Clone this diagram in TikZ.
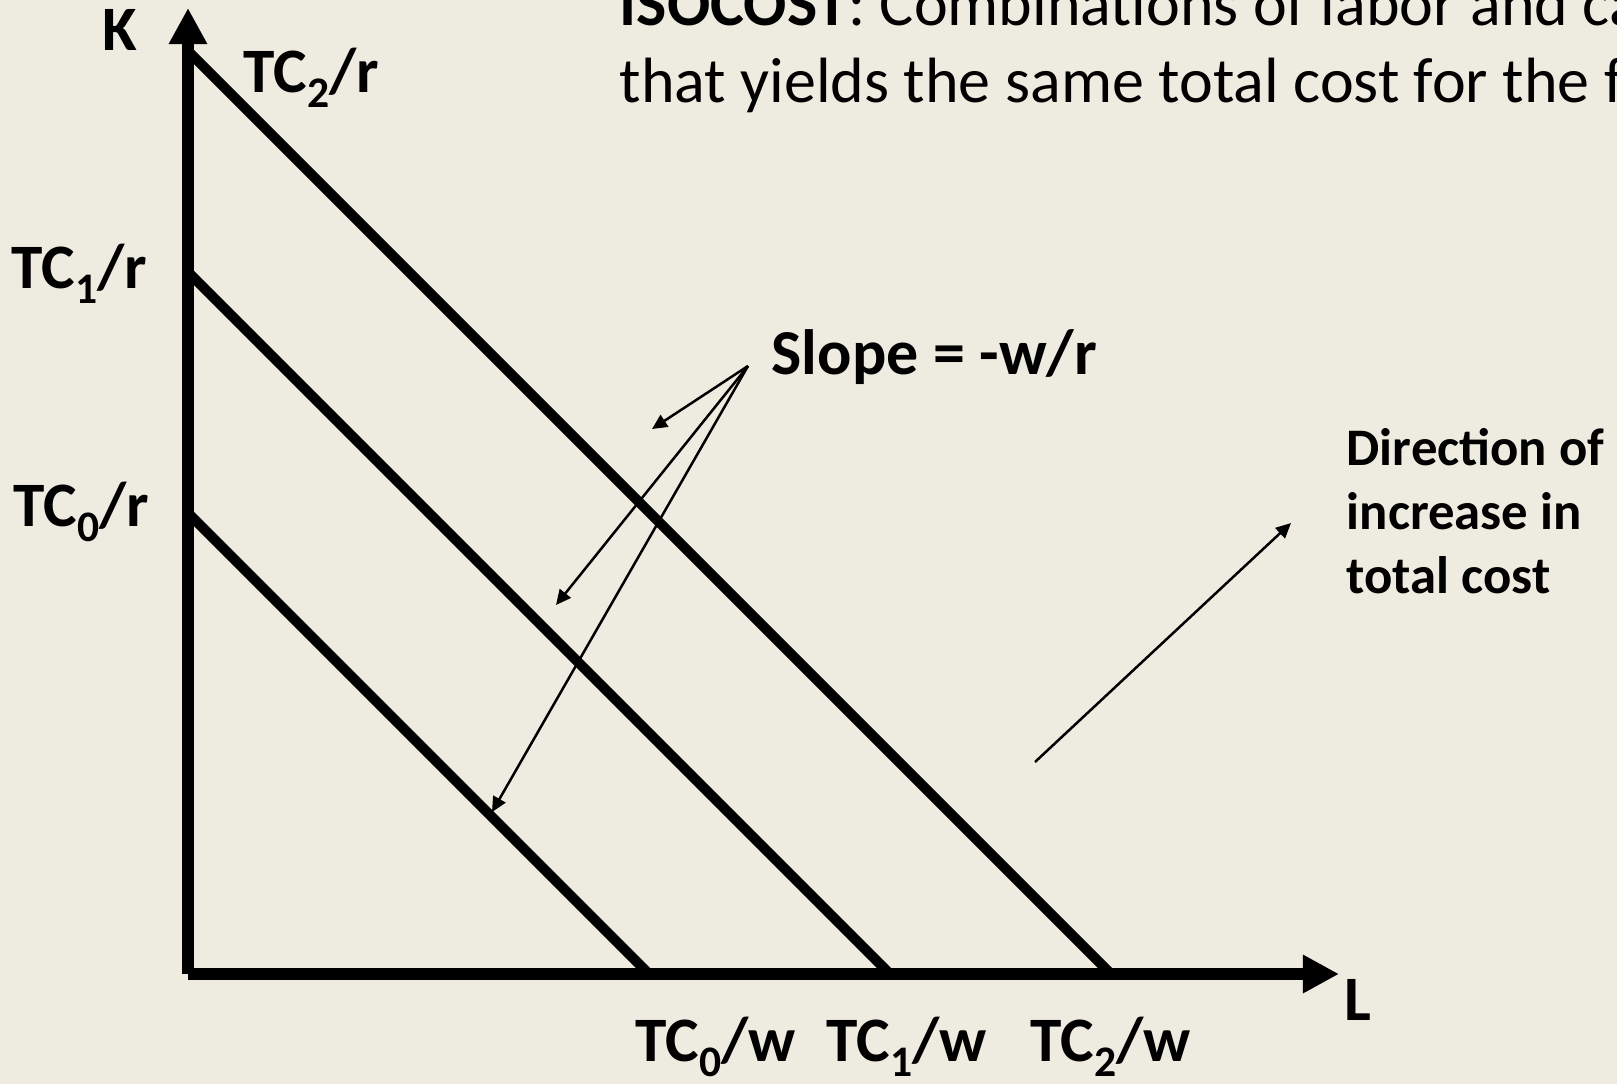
\documentclass[tikz,border=0pt]{standalone}
\usepackage{fontspec}
\setmainfont{Carlito}
\usetikzlibrary{arrows.meta, positioning, calc}
\definecolor{Paper}{HTML}{EEECE1}

\newcommand{\TCsub}[1]{TC\raisebox{-4.3pt}{\fontsize{12.4pt}{12.4pt}\selectfont #1}}

\begin{document}
\begin{tikzpicture}[
    x=0.01cm, y=-0.01cm,
    axis/.style={line width=0.12cm, -{Triangle[length=0.36cm, width=0.36cm]}},
    isocost/.style={line width=0.1cm},
    pointer/.style={line width=0.025cm, -{Triangle[length=0.15cm, width=0.14cm]}},
    lbl/.style={font=\fontsize{18}{18.2}\selectfont\bfseries, inner sep=0pt, anchor=base west},
    note/.style={font=\fontsize{18.2}{21.9}\selectfont, inner sep=0pt, anchor=base west}
]

% page
\useasboundingbox (0,0) rectangle (1617,1084);
\fill[Paper] (0,0) rectangle (1617,1084);
\clip (0,0) rectangle (1617,1084);

% =============================================
% ISOCOST LINES
% =============================================
\coordinate (k0) at (188,513);
\coordinate (k1) at (188,272);
\coordinate (k2) at (188,51);
\coordinate (w0) at (649,974);
\coordinate (w1) at (890,974);
\coordinate (w2) at (1111,974);

\draw[isocost] (k0) -- (w0);
\draw[isocost] (k1) -- (w1);
\draw[isocost] (k2) -- (w2);

% =============================================
% AXES
% =============================================
\coordinate (origin) at (188,974);
\coordinate (ktip) at (188,8);
\coordinate (ltip) at (1339,974);

\draw[axis] (origin) -- (ktip);
\draw[axis] (origin) -- (ltip);

\node[lbl] (K) at (102,50) {K};
\node[lbl] (L) at (1344,1020) {L};

% intercepts
\node[lbl] (tc2r) at (243,92) {\TCsub{2}/r};
\node[lbl] (tc1r) at (11,288) {\TCsub{1}/r};
\node[lbl] (tc0r) at (13,526) {\TCsub{0}/r};

\node[lbl] (tc0w) at (635,1061) {\TCsub{0}/w};
\node[lbl] (tc1w) at (826,1061) {\TCsub{1}/w};
\node[lbl] (tc2w) at (1030,1061) {\TCsub{2}/w};

% =============================================
% SLOPE NOTE
% =============================================
\node[lbl, font=\fontsize{18.2}{18.2}\selectfont\bfseries] (slope) at (771,374) {Slope = -w/r};

\coordinate (fan) at (748,366);
\coordinate (tip2) at (652,429);
\coordinate (tip1) at (556,605);
\coordinate (tip0) at (492,812);

\draw[pointer] (fan) -- (tip2);
\draw[pointer] (fan) -- (tip1);
\draw[pointer] (fan) -- (tip0);

% =============================================
% DIRECTION OF INCREASE
% =============================================
\node[lbl, align=left, font=\fontsize{15}{18.2}\selectfont\bfseries] (dir) at (1346,593) {Direction of\\increase in\\total cost};

\coordinate (dirfoot) at (1035,762);
\coordinate (dirtip) at (1291,523);
\draw[pointer] (dirfoot) -- (dirtip);

% =============================================
% TITLE
% =============================================
\node[note] (title1) at (619,25) {\textbf{ISOCOST}: Combinations of labor and capital};
\node[note] (title2) at (619,102) {that yields the same total cost for the firm};

\end{tikzpicture}
\end{document}
